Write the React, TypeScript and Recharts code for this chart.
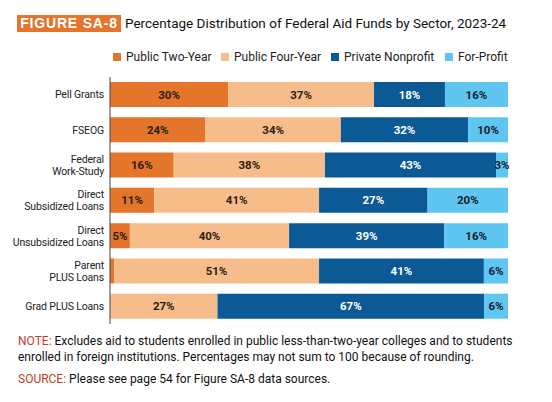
import { Bar, BarChart, LabelList, XAxis, YAxis } from "recharts";

const categories = [
  "Pell Grants",
  "FSEOG",
  "Federal\nWork-Study",
  "Direct\nSubsidized Loans",
  "Direct\nUnsubsidized Loans",
  "Parent\nPLUS Loans",
  "Grad PLUS Loans",
];
const publicTwoYear = [30, 24, 16, 11, 5, 1, 0];
const publicFourYear = [37, 34, 38, 41, 40, 51, 27];
const privateNonprofit = [18, 32, 43, 27, 39, 41, 67];
const forProfit = [16, 10, 3, 20, 16, 6, 6];

const sectors = [
  { key: "p2", name: "Public Two-Year", color: "#E4752A", text: "#2b1d12", values: publicTwoYear },
  { key: "p4", name: "Public Four-Year", color: "#F6BD8A", text: "#2b1d12", values: publicFourYear },
  { key: "pn", name: "Private Nonprofit", color: "#0B5A96", text: "#ffffff", values: privateNonprofit },
  { key: "fp", name: "For-Profit", color: "#5EC6F0", text: "#15202b", values: forProfit },
];

const data = categories.map((c, i) => ({
  cat: c,
  p2: publicTwoYear[i],
  p4: publicFourYear[i],
  pn: privateNonprofit[i],
  fp: forProfit[i],
}));

const FONT = "Roboto, 'Noto Sans', sans-serif";

// etiqueta centrada dentro de cada segmento; some nos muito pequenos
function rotulo(values: number[], cor: string) {
  return (props: any) => {
    const { x, y, width, height, index } = props;
    const v = values[index];
    if (v < 2) return null;
    return (
      <text
        x={x + width / 2}
        y={y + height / 2}
        dy="0.36em"
        textAnchor="middle"
        fill={cor}
        fontSize={11.5}
        fontWeight={700}
        fontFamily={FONT}
      >
        {`${v}%`}
      </text>
    );
  };
}

function TickCategoria(props: any) {
  const { x, y, payload } = props;
  const linhas = String(payload.value).split("\n");
  const y0 = y - ((linhas.length - 1) * 12) / 2;
  return (
    <text
      x={x}
      y={y0}
      textAnchor="end"
      fill="#222"
      fontSize={10.5}
      letterSpacing={-0.15}
      fontFamily={FONT}
    >
      {linhas.map((l, i) => (
        <tspan key={i} x={x} y={y0 + i * 12} dy="0.36em">
          {l}
        </tspan>
      ))}
    </text>
  );
}

const legendPos = [113, 221, 331, 445];

export default function App() {
  return (
    <div
      style={{
        position: "relative",
        width: 552,
        height: 402,
        margin: -8,
        background: "#fff",
        fontFamily: FONT,
        overflow: "hidden",
      }}
    >
      <div
        style={{
          position: "absolute",
          left: 17,
          top: 15,
          width: 104,
          height: 17,
          background: "#E4752A",
          color: "#fff",
          fontWeight: 700,
          fontSize: 14,
          lineHeight: "17px",
          textAlign: "center",
          letterSpacing: 0.8,
          whiteSpace: "nowrap",
          fontFamily: "'Liberation Sans', Arial, sans-serif",
        }}
      >
        FIGURE SA-8
      </div>
      <div
        style={{
          position: "absolute",
          left: 125,
          top: 14,
          fontSize: 13.5,
          lineHeight: "19px",
          color: "#111",
          whiteSpace: "nowrap",
        }}
      >
        Percentage Distribution of Federal Aid Funds by Sector, 2023-24
      </div>

      {sectors.map((s, i) => (
        <div
          key={s.key}
          style={{
            position: "absolute",
            left: legendPos[i],
            top: 50,
            display: "flex",
            alignItems: "center",
            fontSize: 12,
            color: "#222",
            whiteSpace: "nowrap",
          }}
        >
          <span
            style={{
              display: "inline-block",
              width: 8,
              height: 8,
              background: s.color,
              marginRight: 5,
            }}
          />
          {s.name}
        </div>
      ))}

      <div style={{ position: "absolute", left: 0, top: 0 }}>
        <BarChart
          width={552}
          height={402}
          data={data}
          layout="vertical"
          stackOffset="expand"
          barSize={25}
          margin={{ top: 77, right: 44, bottom: 78, left: 0 }}
        >
          <XAxis type="number" hide domain={[0, 1]} />
          <YAxis
            type="category"
            dataKey="cat"
            width={110}
            axisLine={{ stroke: "#444" }}
            tickLine={false}
            tick={<TickCategoria />}
            tickMargin={0}
            interval={0}
          />
          {sectors.map((s) => (
            <Bar
              key={s.key}
              dataKey={s.key}
              name={s.name}
              stackId="a"
              fill={s.color}
              isAnimationActive={false}
            >
              <LabelList content={rotulo(s.values, s.text)} />
            </Bar>
          ))}
        </BarChart>
      </div>

      <div
        style={{
          position: "absolute",
          left: 18,
          top: 334,
          fontSize: 12,
          lineHeight: "15.5px",
          color: "#111",
          whiteSpace: "nowrap",
        }}
      >
        <span style={{ color: "#C83A2A" }}>NOTE:</span> Excludes aid to students
        enrolled in public less-than-two-year colleges and to students
        <br />
        enrolled in foreign institutions. Percentages may not sum to 100 because
        of rounding.
      </div>
      <div
        style={{
          position: "absolute",
          left: 18,
          top: 372,
          fontSize: 12,
          lineHeight: "15.5px",
          color: "#111",
          whiteSpace: "nowrap",
        }}
      >
        <span style={{ color: "#C83A2A" }}>SOURCE:</span> Please see page 54 for
        Figure SA-8 data sources.
      </div>
    </div>
  );
}
